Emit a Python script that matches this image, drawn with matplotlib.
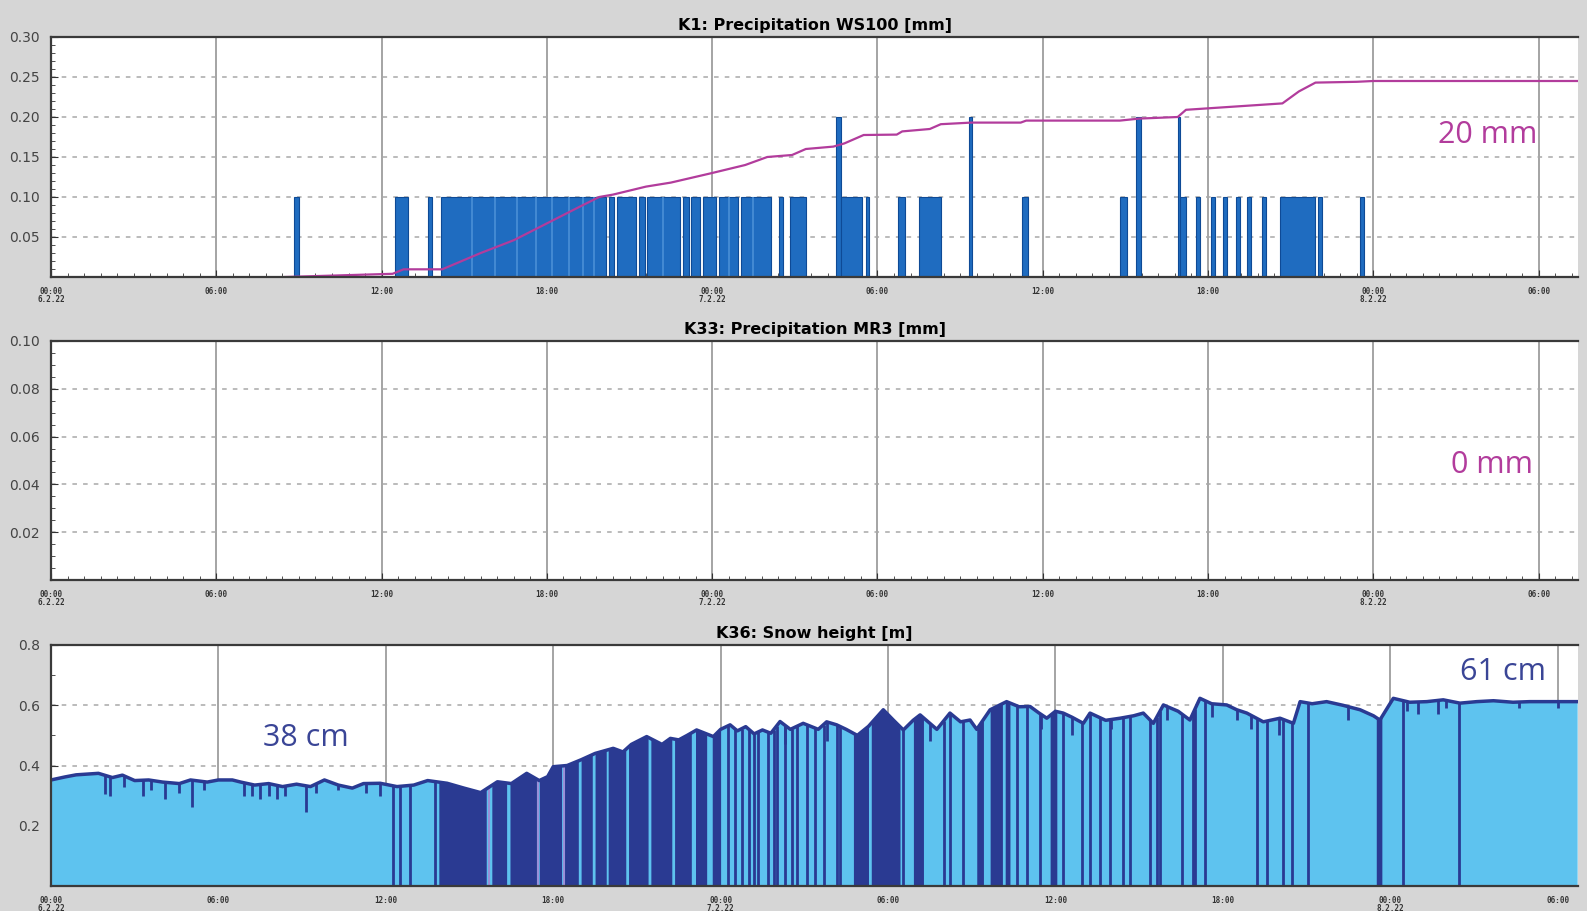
import numpy as np
import matplotlib
matplotlib.use('Agg')
import matplotlib.pyplot as plt
from matplotlib.ticker import MultipleLocator

# ---- data (time in hours since 00:00 6.2.22) ----
tick_hours = [0, 6, 12, 18, 24, 30, 36, 42, 48, 54]
tick_labels = ['00:00\n6.2.22', '06:00', '12:00', '18:00', '00:00\n7.2.22',
               '06:00', '12:00', '18:00', '00:00\n8.2.22', '06:00']

# precipitation WS100: rain intervals (start h, end h, mm per 10 min)
rain_start = [8.83, 12.5, 13.67, 14.17, 20.25, 20.55, 21.35, 21.65, 22.95, 23.25,
              23.65, 24.25, 25.05, 26.42, 26.83, 28.5, 28.67, 29.58, 30.75, 31.5,
              33.33, 35.25, 38.8, 39.4, 40.9, 41.0, 41.55, 42.1, 42.55, 43.0,
              43.4, 43.95, 44.6, 46.0, 47.5]
rain_end = [9.0, 12.95, 13.83, 20.15, 20.45, 21.25, 21.55, 22.85, 23.15, 23.55,
            24.15, 24.95, 26.15, 26.58, 27.42, 28.67, 29.45, 29.7, 31.0, 32.3,
            33.45, 35.45, 39.05, 39.55, 41.0, 41.2, 41.7, 42.25, 42.7, 43.15,
            43.55, 44.1, 45.9, 46.15, 47.65]
rain_val = [0.1, 0.1, 0.1, 0.1, 0.1, 0.1, 0.1, 0.1, 0.1, 0.1,
            0.1, 0.1, 0.1, 0.1, 0.1, 0.2, 0.1, 0.1, 0.1, 0.1,
            0.2, 0.1, 0.1, 0.2, 0.2, 0.1, 0.1, 0.1, 0.1, 0.1,
            0.1, 0.1, 0.1, 0.1, 0.1]
# lighter streaks seen inside the dense rain block
rain_streaks = [15.3, 16.1, 16.9, 17.6, 18.2, 18.8, 19.3, 19.7, 22.2, 24.6, 25.5]

# cumulative precipitation curve (scaled as drawn)
cum_h = [8.5, 12.4, 12.8, 14.2, 15.6, 16.8, 18.0, 19.2, 19.9, 20.4, 21.6, 22.5,
         24.0, 25.2, 26.0, 26.9, 27.4, 28.4, 28.8, 29.5, 30.7, 30.9, 31.9, 32.3,
         33.4, 35.2, 35.4, 38.8, 39.5, 40.9, 41.2, 44.7, 45.3, 45.9, 47.4, 48.0, 55.4]
cum_v = [0.0, 0.004, 0.0096, 0.0096, 0.03, 0.046, 0.067, 0.088, 0.10, 0.103, 0.113,
         0.118, 0.13, 0.14, 0.15, 0.1525, 0.16, 0.163, 0.167, 0.1775, 0.178, 0.182,
         0.185, 0.191, 0.193, 0.193, 0.1955, 0.1955, 0.198, 0.20, 0.209, 0.217,
         0.232, 0.243, 0.244, 0.245, 0.245]

# snow height [m], upper envelope
snow_h = [0.0, 0.5, 0.9, 1.7, 2.2, 2.56, 3.0, 3.5, 4.0, 4.6, 5.0, 5.6, 6.0, 6.5,
          6.8, 7.3, 7.8, 8.3, 8.8, 9.3, 9.8, 10.3, 10.8, 11.2, 11.8, 12.4, 13.0,
          13.5, 14.2, 14.8, 15.4, 16.0, 16.5, 17.05, 17.5, 17.8, 18.0, 18.5, 19.0,
          19.5, 20.15, 20.5, 20.8, 21.35, 21.9, 22.2, 22.5, 22.8, 23.14, 23.74,
          24.0, 24.34, 24.6, 24.9, 25.2, 25.5, 25.8, 26.13, 26.5, 26.96, 27.5,
          27.8, 28.16, 28.5, 28.9, 29.3, 29.83, 30.2, 30.55, 30.9, 31.15, 31.75,
          32.22, 32.6, 32.94, 33.18, 33.66, 34.25, 34.7, 35.09, 35.4, 35.69, 36.0,
          36.28, 36.6, 37.0, 37.24, 37.8, 38.32, 38.8, 39.15, 39.51, 39.87, 40.4,
          40.82, 41.18, 41.6, 42.14, 42.5, 42.86, 43.45, 44.05, 44.53, 44.77,
          45.2, 45.72, 46.3, 46.92, 47.4, 47.63, 48.11, 48.7, 49.31, 49.9, 50.5,
          51.1, 51.7, 52.4, 53.0, 53.8, 54.7]
snow_v = [0.352, 0.362, 0.369, 0.374, 0.36, 0.368, 0.35, 0.352, 0.345, 0.34, 0.352,
          0.345, 0.352, 0.352, 0.345, 0.335, 0.34, 0.33, 0.338, 0.33, 0.352, 0.335,
          0.325, 0.34, 0.341, 0.33, 0.335, 0.35, 0.341, 0.325, 0.31, 0.346, 0.34,
          0.374, 0.35, 0.363, 0.396, 0.40, 0.419, 0.44, 0.457, 0.445, 0.47, 0.496,
          0.47, 0.49, 0.485, 0.50, 0.518, 0.496, 0.52, 0.535, 0.515, 0.529, 0.505,
          0.518, 0.507, 0.546, 0.52, 0.54, 0.52, 0.545, 0.535, 0.52, 0.50, 0.53,
          0.585, 0.55, 0.518, 0.55, 0.568, 0.52, 0.574, 0.545, 0.551, 0.52, 0.585,
          0.612, 0.595, 0.596, 0.575, 0.557, 0.58, 0.574, 0.56, 0.54, 0.574, 0.55,
          0.557, 0.565, 0.574, 0.54, 0.601, 0.58, 0.551, 0.623, 0.605, 0.601, 0.585,
          0.574, 0.545, 0.557, 0.54, 0.612, 0.605, 0.612, 0.60, 0.585, 0.565,
          0.551, 0.623, 0.61, 0.612, 0.618, 0.607, 0.612, 0.615, 0.61, 0.612,
          0.612, 0.612]

# short dips below the envelope (time h, lowest value m)
dip_h = [1.95, 2.1, 2.6, 3.3, 3.6, 4.1, 4.6, 5.05, 5.5, 6.9, 7.2, 7.5, 7.8, 8.1,
         8.4, 9.15, 9.5, 10.3, 11.3, 11.8, 26.3, 27.8, 31.5, 35.5, 36.6, 38.0,
         40.0, 41.6, 42.5, 43.0, 44.0, 46.5, 48.6, 49.0, 49.7, 50.0, 52.6, 54.0]
dip_v = [0.307, 0.30, 0.33, 0.30, 0.32, 0.29, 0.31, 0.263, 0.32, 0.30, 0.30, 0.29,
         0.30, 0.29, 0.30, 0.247, 0.31, 0.32, 0.31, 0.30, 0.47, 0.48, 0.48, 0.52,
         0.50, 0.52, 0.55, 0.56, 0.55, 0.52, 0.50, 0.55, 0.58, 0.57, 0.57, 0.59,
         0.59, 0.59]

# sensor dropouts: dense blocks and single spikes to zero
drop_start = [13.9, 15.8, 16.45, 17.5, 18.4, 19.0, 19.5, 19.97, 20.7, 21.5, 22.35,
              23.1, 23.7, 28.76, 29.4, 30.91, 33.18, 33.66, 34.2, 35.81, 47.5]
drop_end = [15.6, 16.33, 17.4, 18.3, 18.9, 19.4, 19.9, 20.6, 21.4, 22.25, 22.95,
            23.5, 24.0, 29.3, 30.43, 31.27, 33.42, 34.1, 34.37, 36.05, 47.7]
drop_single = [12.27, 12.5, 12.87, 13.75, 24.27, 24.5, 24.75, 25.0, 25.2, 25.34,
               25.7, 25.9, 26.01, 26.3, 26.55, 26.73, 27.09, 27.39, 27.69, 28.16,
               28.28, 30.55, 31.99, 32.22, 32.7, 34.61, 34.97, 35.45, 36.28, 36.94,
               37.24, 37.6, 37.96, 38.44, 38.68, 39.39, 39.63, 39.75, 40.53, 40.94,
               41.0, 41.36, 43.21, 43.57, 44.17, 44.47, 45.07, 48.44, 50.47]
drop_purple = [15.7, 17.47, 18.37]

# ---- styling ----
BG = '#d6d6d6'
GRID = '#8c8c8c'
BAR = '#1f6cc0'
MAGENTA = '#b23c9c'
LIGHT = '#5ec3ef'
DARK = '#2a3a92'

fig = plt.figure(figsize=(15.87, 9.11), dpi=100, facecolor=BG)
left, width = 51 / 1587, 1527 / 1587
ax1 = fig.add_axes([left, 1 - 277 / 911, width, 240 / 911])
ax2 = fig.add_axes([left, 1 - 580 / 911, width, 239 / 911])
ax3 = fig.add_axes([left, 1 - 886 / 911, width, 241 / 911])


def style_axis(ax, xmax, ymax, yticks, fmt, yminor):
    ax.set_facecolor('white')
    ax.set_xlim(0, xmax)
    ax.set_ylim(0, ymax)
    ax.set_xticks(tick_hours)
    ax.set_xticklabels(tick_labels, fontsize=5.5, family='DejaVu Sans Mono',
                       fontweight='bold', color='#333333', linespacing=0.9)
    ax.xaxis.set_minor_locator(MultipleLocator(0.6))
    ax.set_yticks(yticks)
    ax.set_yticklabels([fmt.format(v) for v in yticks], fontsize=10, color='#444444')
    ax.yaxis.set_minor_locator(MultipleLocator(yminor))
    ax.tick_params(axis='both', which='both', direction='in', color='#333333')
    ax.tick_params(axis='x', which='major', length=5, pad=7)
    ax.tick_params(axis='x', which='minor', length=3)
    ax.tick_params(axis='y', which='major', length=5, pad=8)
    ax.tick_params(axis='y', which='minor', length=3)
    ax.spines['right'].set_visible(False)
    for s in ['top', 'left', 'bottom']:
        ax.spines[s].set_color('#3a3a3a')
        ax.spines[s].set_linewidth(1.6)
    ax.set_axisbelow(True)
    ax.grid(axis='x', color=GRID, lw=1.1)
    ax.grid(axis='y', color='#a8a8a8', lw=1.1, ls=(0, (3, 4)))


# Panel 1: precipitation WS100
style_axis(ax1, 55.43, 0.30, [0.05, 0.10, 0.15, 0.20, 0.25, 0.30], '{:.2f}', 0.01)
widths = np.array(rain_end) - np.array(rain_start)
ax1.bar(rain_start, rain_val, width=widths, align='edge', color=BAR,
        edgecolor='#0e4a96', linewidth=0.8)
ax1.vlines(rain_streaks, 0, 0.1, color='#4a8fd6', lw=1.2)
ax1.plot(cum_h, cum_v, color=MAGENTA, lw=1.6)
ax1.set_title('K1: Precipitation WS100 [mm]', fontsize=11.5, fontweight='bold', pad=5)
ax1.text(0.941, 0.59, '20 mm', transform=ax1.transAxes, ha='center', va='center',
         fontsize=22, family='Open Sans', color=MAGENTA)

# Panel 2: precipitation MR3 (no rain recorded)
style_axis(ax2, 55.43, 0.10, [0.02, 0.04, 0.06, 0.08, 0.10], '{:.2f}', 0.005)
ax2.set_title('K33: Precipitation MR3 [mm]', fontsize=11.5, fontweight='bold', pad=5)
ax2.text(0.944, 0.483, '0 mm', transform=ax2.transAxes, ha='center', va='center',
         fontsize=22, family='Open Sans', color=MAGENTA)

# Panel 3: snow height
style_axis(ax3, 54.73, 0.8, [0.2, 0.4, 0.6, 0.8], '{:.1f}', 0.1)
ax3.fill_between(snow_h, 0, snow_v, color=LIGHT, lw=0)
for a, b in zip(drop_start, drop_end):
    xs = np.linspace(a, b, 20)
    ax3.fill_between(xs, 0, np.interp(xs, snow_h, snow_v), color=DARK, lw=0)
ax3.vlines(drop_single, 0, np.interp(drop_single, snow_h, snow_v), color=DARK, lw=2)
ax3.vlines(drop_purple, 0, np.interp(drop_purple, snow_h, snow_v), color='#9a90d8', lw=1.5)
ax3.vlines(dip_h, dip_v, np.interp(dip_h, snow_h, snow_v), color=DARK, lw=2)
ax3.plot(snow_h, snow_v, color=DARK, lw=2.5)
ax3.set_title('K36: Snow height [m]', fontsize=11.5, fontweight='bold', pad=5)
ax3.text(0.167, 0.615, '38 cm', transform=ax3.transAxes, ha='center', va='center',
         fontsize=22, family='Open Sans', color='#3a4596')
ax3.text(0.951, 0.888, '61 cm', transform=ax3.transAxes, ha='center', va='center',
         fontsize=22, family='Open Sans', color='#3a4596')

plt.savefig('out.png', dpi=100, facecolor=BG)
